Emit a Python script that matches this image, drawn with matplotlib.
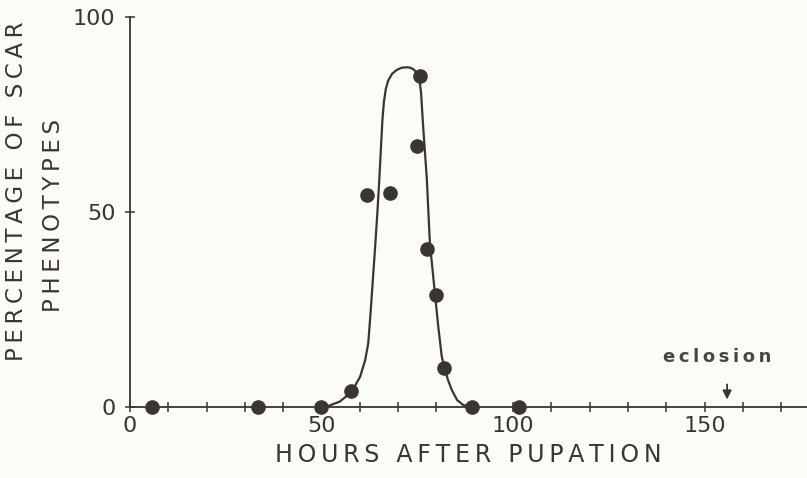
import numpy as np
import matplotlib
matplotlib.use("Agg")
import matplotlib.pyplot as plt

# observed points (hours after pupation, % scar phenotypes)
horas = [5.7, 33.3, 49.8, 57.7, 62.0, 67.9, 74.9, 75.7, 77.5, 79.9, 82.1, 89.3, 101.6]
porcentaje = [0, 0, 0, 4.2, 54.3, 55.0, 66.9, 84.9, 40.4, 28.7, 9.9, 0, 0]

# hand-drawn curve
curva_x = [50.5, 51.3, 54.8, 57.9, 60.1, 61.4, 62.2, 62.8, 63.4, 64.0, 64.6, 65.1,
           65.5, 65.9, 66.3, 66.8, 67.4, 68.4, 69.6, 70.9, 72.2, 73.2, 74.0, 74.8,
           75.5, 76.0, 76.5, 77.0, 77.5, 78.3, 79.6, 80.5, 81.4, 82.2, 83.0, 84.0,
           85.4, 87.0, 89.5]
curva_y = [0, 0.1, 1.4, 3.9, 7.8, 12.0, 16.3, 24.0, 32.5, 41.0, 50.0, 58.5,
           66.0, 73.5, 78.3, 81.6, 83.7, 85.4, 86.4, 87.0, 87.1, 87.0, 86.6, 85.8,
           84.6, 80.5, 72.5, 65.5, 58.5, 42.0, 29.2, 20.5, 12.9, 9.9, 7.0, 4.4,
           1.8, 0.5, 0]

eclosion_x = 155.9

fondo = "#fcfcf7"
tinta = "#3a3434"

# las letras del original van muy espaciadas
def espaciar(s):
    return "\u2009".join(s)

fig = plt.figure(figsize=(8.07, 4.78), dpi=100, facecolor=fondo)
ax = fig.add_axes([130 / 807, 71 / 478, 677 / 807, 390 / 478])
ax.set_facecolor(fondo)

ax.plot(curva_x, curva_y, color=tinta, lw=1.6, zorder=2,
        solid_joinstyle="round", solid_capstyle="round")
ax.plot(horas, porcentaje, "o", ms=9.5, color=tinta, mec=tinta, zorder=3, clip_on=False)

ax.set_xlim(0, 677 / 3.83)
ax.set_ylim(0, 100)

for s in ["top", "right"]:
    ax.spines[s].set_visible(False)
for s in ["left", "bottom"]:
    ax.spines[s].set_color(tinta)
    ax.spines[s].set_linewidth(1.3)

xt = np.arange(0, 171, 10)
ax.set_xticks(xt)
ax.set_xticklabels([str(v) if v % 50 == 0 else "" for v in xt])
ax.set_yticks([0, 50, 100])
ax.tick_params(axis="x", direction="inout", length=7, width=1.1, color=tinta,
               labelsize=16, labelcolor=tinta, pad=3)
ax.tick_params(axis="y", direction="inout", length=7, width=1.1, color=tinta,
               labelsize=16, labelcolor=tinta, pad=7)

ax.set_xlabel(espaciar("HOURS AFTER PUPATION"), fontsize=17, color=tinta, labelpad=5)

fig.text(17 / 807, 1 - 191 / 478, espaciar("PERCENTAGE OF SCAR"), rotation=90,
         ha="center", va="center", fontsize=16.5, color=tinta)
fig.text(54 / 807, 1 - 215 / 478, espaciar("PHENOTYPES"), rotation=90,
         ha="center", va="center", fontsize=16.5, color=tinta)

ax.text(153.3, 12.8, espaciar("eclosion"), ha="center", va="center", fontsize=13,
        fontweight="bold", color="#4a4545")
ax.annotate("", xy=(eclosion_x, 1.2), xytext=(eclosion_x, 6.5),
            arrowprops=dict(arrowstyle="-|>", color=tinta, lw=1.3,
                            mutation_scale=13))

fig.savefig("out.png", dpi=100, facecolor=fondo)
